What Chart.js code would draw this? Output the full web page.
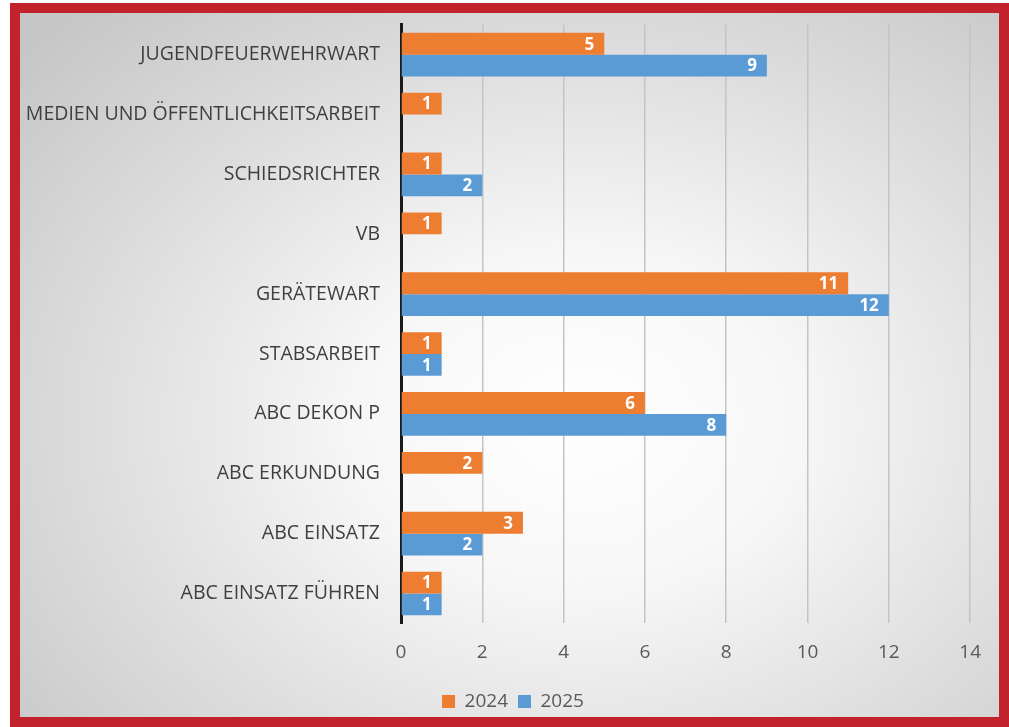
<!DOCTYPE html>
<html>
<head>
<meta charset="utf-8">
<script src="https://cdn.jsdelivr.net/npm/chart.js@4"></script>
<style>
  html, body { margin: 0; padding: 0; background: #ffffff; overflow: hidden; }
  #rahmen {
    position: absolute; left: 10px; top: 3px;
    width: 979px; height: 704px;
    border: 10px solid #c1222d;
    overflow: hidden;
    background: radial-gradient(ellipse 75% 80% at 57% 58%, #ffffff 0%, #f7f7f7 30%, #dedede 65%, #c6c6c6 100%);
  }
  #grafico { position: absolute; left: -18px; top: -13px; display: block; }
</style>
</head>
<body>
<div id="rahmen"><canvas id="grafico" width="1004" height="725"></canvas></div>
<script>
var kategorien = ["JUGENDFEUERWEHRWART", "MEDIEN UND ÖFFENTLICHKEITSARBEIT", "SCHIEDSRICHTER", "VB", "GERÄTEWART",
                  "STABSARBEIT", "ABC DEKON P", "ABC ERKUNDUNG", "ABC EINSATZ", "ABC EINSATZ FÜHREN"];
var werte2024 = [5, 1, 1, 1, 11, 1, 6, 2, 3, 1];
var werte2025 = [9, null, 2, null, 12, 1, 8, null, 2, 1];
var achseTicks = [0, 2, 4, 6, 8, 10, 12, 14];

// Werte weiss in die Balkenenden schreiben
var wertLabels = {
    id: 'wertLabels',
    afterDatasetsDraw: function (chart) {
        var ctx = chart.ctx;
        ctx.save();
        ctx.fillStyle = '#ffffff';
        ctx.font = 'bold 17px "Open Sans"';
        ctx.textAlign = 'right';
        ctx.textBaseline = 'middle';
        chart.data.datasets.forEach(function (ds, i) {
            chart.getDatasetMeta(i).data.forEach(function (bar, j) {
                if (ds.data[j] == null) return;
                ctx.fillText(ds.data[j], bar.x - 10, bar.y + 1);
            });
        });
        ctx.restore();
    }
};

// Legende etwas nach rechts ruecken (wie im Original)
var legendeVersatz = {
    id: 'legendeVersatz',
    afterLayout: function (chart) {
        chart.legend.left += 9;
        chart.legend.right += 9;
    }
};

var ctx = document.getElementById('grafico');
var grafico = new Chart(ctx, {
    type: 'bar',
    data: {
        labels: kategorien,
        datasets: [{
            label: '2024',
            data: werte2024,
            backgroundColor: '#ed7d31',
            barPercentage: 1,
            categoryPercentage: 0.73
        }, {
            label: '2025',
            data: werte2025,
            backgroundColor: '#5b9bd5',
            barPercentage: 1,
            categoryPercentage: 0.73
        }]
    },
    options: {
        indexAxis: 'y',
        responsive: false,
        animation: false,
        layout: { padding: { left: 4, right: 4, top: 0, bottom: 4 } },
        scales: {
            x: {
                min: 0, max: 14,
                afterBuildTicks: function (axis) {
                    axis.ticks = achseTicks.map(function (v) { return { value: v }; });
                },
                grid: { color: '#c4c4c4', lineWidth: 1.5, drawTicks: false },
                border: { display: false },
                ticks: { color: '#595959', font: { family: 'Open Sans', size: 19, lineHeight: 0.45 }, padding: 25 }
            },
            y: {
                afterFit: function (axis) { axis.width = 395; },
                grid: { display: false },
                border: { display: true, color: '#1a1a1a', width: 3 },
                ticks: { color: '#3f3f3f', font: { family: 'Open Sans', size: 19.5 }, padding: 13 }
            }
        },
        plugins: {
            legend: {
                position: 'bottom',
                labels: {
                    color: '#595959',
                    font: { family: 'Open Sans', size: 19, lineHeight: 1 },
                    boxWidth: 13, boxHeight: 13, padding: 10
                }
            },
            tooltip: { enabled: false }
        }
    },
    plugins: [wertLabels, legendeVersatz]
});
</script>
</body>
</html>
